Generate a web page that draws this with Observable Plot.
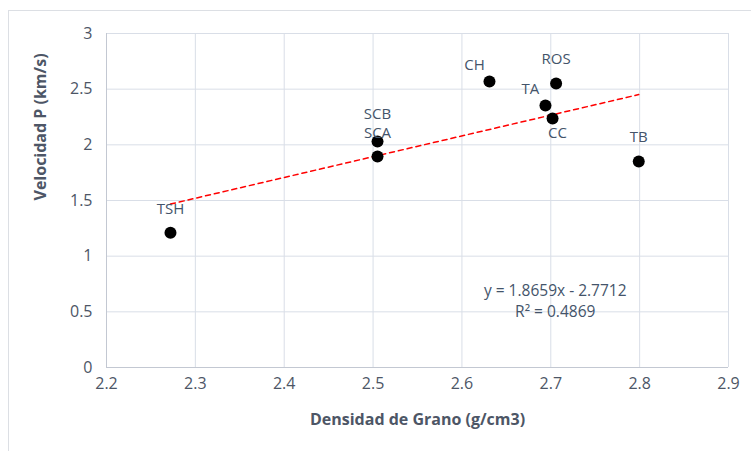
<!DOCTYPE html>
<html>
<head>
<meta charset="utf-8">
<script src="https://cdn.jsdelivr.net/npm/d3@7"></script>
<script src="https://cdn.jsdelivr.net/npm/@observablehq/plot@0.6"></script>
<style>
  html, body { margin: 0; padding: 0; background: #fff; }
  #wrap { position: relative; width: 751px; height: 451px; overflow: hidden; }
  #border { position: absolute; left: 8px; top: 10px; width: 800px; height: 500px; border: 1px solid #dcdfe4; box-sizing: border-box; }
  #chart { position: absolute; left: 0; top: 0; }
</style>
</head>
<body>
<div id="wrap"><div id="border"></div><div id="chart"></div></div>
<script>
const names = ["TSH", "SCB", "SCA", "CH", "ROS", "TA", "CC", "TB"];
const density = [2.272, 2.505, 2.505, 2.631, 2.706, 2.694, 2.702, 2.799];
const velocity = [1.21, 2.03, 1.895, 2.569, 2.551, 2.353, 2.237, 1.85];
const labelSide = ["above", "aboveHigh", "aboveLow", "aboveLeft", "above", "aboveLeft", "below", "above"];
const xTicks = [2.2, 2.3, 2.4, 2.5, 2.6, 2.7, 2.8, 2.9];
const yTicks = [0, 0.5, 1, 1.5, 2, 2.5, 3];
const slope = 1.8659;
const intercept = -2.7712;
const equationLines = ["y = 1.8659x - 2.7712", "R² = 0.4869"];
const equationAnchor = {x: 2.705, y: 0.69};

const data = names.map((n, i) => ({name: n, x: density[i], y: velocity[i], side: labelSide[i]}));
const xMin = d3.min(density), xMax = d3.max(density);
const trend = [xMin, xMax].map(x => ({x, y: slope * x + intercept}));

const offsets = {above: [0, -24], aboveHigh: [0, -27], aboveLow: [0, -23], aboveLeft: [-15, -16], below: [5, 15]};
const labelMarks = Object.keys(offsets).map(side =>
  Plot.text(data.filter(d => d.side === side), {
    x: "x", y: "y", text: "name",
    dx: offsets[side][0], dy: offsets[side][1],
    fill: "#44546a", fontSize: 15
  })
);

const equationMarks = equationLines.map((line, i) =>
  Plot.text([line], {x: () => equationAnchor.x, y: () => equationAnchor.y, text: d => d, dy: i * 21, fontSize: 15.5, fill: "#44546a"})
);

const textColor = "#4d5666";
const chart = Plot.plot({
  width: 751,
  height: 451,
  marginLeft: 106,
  marginRight: 23,
  marginTop: 33,
  marginBottom: 84,
  style: {fontFamily: "'Open Sans', 'Noto Sans', sans-serif", background: "transparent", overflow: "visible"},
  x: {domain: [2.2, 2.9], ticks: xTicks, tickFormat: d => String(d), label: null},
  y: {domain: [0, 3], ticks: yTicks, tickFormat: d => String(d), label: null},
  marks: [
    Plot.gridX(xTicks, {stroke: "#d9dee7", strokeOpacity: 1}),
    Plot.gridY(yTicks, {stroke: "#d9dee7", strokeOpacity: 1}),
    Plot.ruleY([0], {stroke: "#c3c8d2"}),
    Plot.ruleX([2.2], {stroke: "#c3c8d2"}),
    Plot.axisX(xTicks, {tickSize: 0, tickPadding: 10, fontSize: 16, fill: textColor, label: null, tickFormat: d => String(d)}),
    Plot.axisY(yTicks, {tickSize: 0, tickPadding: 14, fontSize: 16, fill: textColor, label: null, tickFormat: d => String(d)}),
    Plot.text(["Densidad de Grano (g/cm3)"], {frameAnchor: "bottom", dy: 57, text: d => d, fontSize: 16, fontWeight: "bold", fill: textColor}),
    Plot.text(["Velocidad P (km/s)"], {frameAnchor: "left", dx: -66, rotate: -90, text: d => d, fontSize: 16, fontWeight: "bold", fill: textColor}),
    Plot.line(trend, {x: "x", y: "y", stroke: "#ff0000", strokeWidth: 1.5, strokeDasharray: "5,4"}),
    Plot.dot(data, {x: "x", y: "y", r: 6, fill: "#000", stroke: "none"}),
    ...labelMarks,
    ...equationMarks
  ]
});
document.getElementById("chart").appendChild(chart);
</script>
</body>
</html>
